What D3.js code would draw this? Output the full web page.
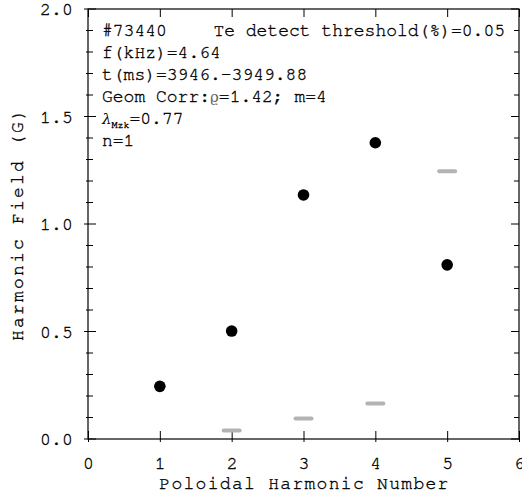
<!DOCTYPE html>
<html><head><meta charset="utf-8">
<script src="https://cdn.jsdelivr.net/npm/d3@7"></script>
<style>body{margin:0;background:#fff}svg{display:block}text{font-family:"Nimbus Mono PS","Nimbus Mono L","FreeMono","Courier","Liberation Mono","Courier New",monospace;fill:#000;stroke:#000;stroke-width:0.35px}</style>
</head><body><svg id="c" width="522" height="495"></svg>
<script>
const harmonics = [1, 2, 3, 4, 5];
const fieldValues = [0.245, 0.502, 1.135, 1.378, 0.81];
const thresholdHarmonics = [2, 3, 4, 5];
const thresholdValues = [0.04, 0.095, 0.165, 1.245];
const xTicks = [0, 1, 2, 3, 4, 5, 6];
const yTicks = [0.0, 0.5, 1.0, 1.5, 2.0];
const yMinorTicks = d3.range(0, 2.0001, 0.1);
const infoLines = ["#73440", "f(kHz)=4.64", "t(ms)=3946.-3949.88", "Geom Corr:ϱ=1.42; m=4", "λMzk=0.77", "n=1"];
const thresholdLabel = "Te detect threshold(%)=0.05";

const svg = d3.select("#c");
const L = 88, R = 519, T = 9, B = 439;
const x = d3.scaleLinear().domain([0, 6]).range([L, R]);
const y = d3.scaleLinear().domain([0, 2]).range([B, T]);

svg.append("rect").attr("x", L).attr("y", T).attr("width", R - L).attr("height", B - T)
  .attr("fill", "none").attr("stroke", "#000").attr("stroke-width", 1.2);

const gb = svg.append("g").attr("transform", `translate(0,${B})`)
  .call(d3.axisBottom(x).tickValues(xTicks).tickFormat(d3.format("d")).tickSize(0).tickPadding(17));
gb.select(".domain").remove();
gb.selectAll(".tick line").remove();
gb.selectAll(".tick").append("line").attr("y1", 3).attr("y2", -8).attr("stroke", "#000");
gb.selectAll("text").style("font-size", "18px").style("letter-spacing", "0.2px").attr("fill", "#000");

const gt = svg.append("g").attr("transform", `translate(0,${T})`)
  .call(d3.axisTop(x).tickValues(xTicks).tickSize(0).tickFormat(""));
gt.select(".domain").remove();
gt.selectAll(".tick").append("line").attr("y1", 0).attr("y2", 8).attr("stroke", "#000");

const gl = svg.append("g").attr("transform", `translate(${L},0)`)
  .call(d3.axisLeft(y).tickValues(yTicks).tickFormat(d3.format(".1f")).tickSize(0).tickPadding(15));
gl.select(".domain").remove();
gl.selectAll("text").style("font-size", "18px").style("letter-spacing", "0.2px").attr("fill", "#000").attr("dy", "0.32em");
const isMajor = d => Math.abs(d * 2 - Math.round(d * 2)) < 1e-6;
svg.append("g").selectAll("line").data(yMinorTicks).join("line")
  .attr("x1", d => isMajor(d) ? L - 4 : L - 2)
  .attr("x2", d => isMajor(d) ? L + 8 : L + 5)
  .attr("y1", d => y(d)).attr("y2", d => y(d)).attr("stroke", "#000");

svg.append("g").selectAll("line").data(yMinorTicks).join("line")
  .attr("x1", R)
  .attr("x2", d => isMajor(d) ? R - 8 : R - 5)
  .attr("y1", d => y(d)).attr("y2", d => y(d)).attr("stroke", "#000");

svg.append("text").attr("x", (L + R) / 2 + 1).attr("y", 489).attr("text-anchor", "middle")
  .style("font-size", "18px").style("letter-spacing", "1.3px").text("Poloidal Harmonic Number");
svg.append("text").attr("transform", `translate(23,${(T + B) / 2}) rotate(-90)`).attr("text-anchor", "middle")
  .style("font-size", "18px").style("letter-spacing", "2.2px").text("Harmonic Field (G)");

svg.append("g").selectAll("line").data(thresholdHarmonics).join("line")
  .attr("x1", (d) => x(d) - 8).attr("x2", (d) => x(d) + 8)
  .attr("y1", (d, i) => y(thresholdValues[i])).attr("y2", (d, i) => y(thresholdValues[i]))
  .attr("stroke", "#b3b3b3").attr("stroke-width", 4).attr("stroke-linecap", "round");

svg.append("g").selectAll("circle").data(harmonics).join("circle")
  .attr("cx", d => x(d)).attr("cy", (d, i) => y(fieldValues[i])).attr("r", 5.8).attr("fill", "#000");

const ann = svg.append("g").style("font-size", "18px").style("letter-spacing", "0px");
infoLines.forEach((s, i) => {
  const t = ann.append("text").attr("x", 102).attr("y", 36 + i * 22);
  if (s.startsWith("λ")) {
    t.append("tspan").text("λ").style("font-style", "italic").style("font-family", "DejaVu Serif").style("font-size", "15px").style("stroke-width", "0");
    t.append("tspan").text("Mzk").style("font-size", "10px").attr("dy", 4);
    t.append("tspan").text("=0.77").attr("dy", -4);
  } else if (s.includes("ϱ")) {
    const parts = s.split("ϱ");
    t.append("tspan").text(parts[0]);
    t.append("tspan").text("ϱ").style("font-family", "DejaVu Serif").style("font-size", "15px").style("stroke-width", "0").attr("fill", "#666");
    t.append("tspan").text(parts[1]);
  } else t.text(s);
});
ann.append("text").attr("x", 505).attr("y", 36).attr("text-anchor", "end").text(thresholdLabel);
</script></body></html>
